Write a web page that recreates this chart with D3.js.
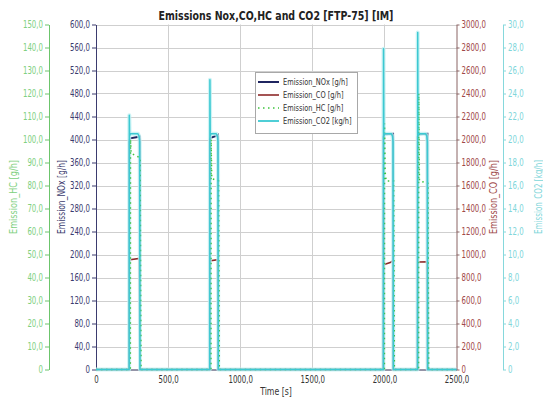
<!DOCTYPE html>
<html>
<head>
<meta charset="utf-8">
<script src="https://cdn.jsdelivr.net/npm/d3@7"></script>
<style>
  html, body { margin: 0; padding: 0; background: #fff; }
  svg { display: block; font-family: "DejaVu Sans", sans-serif; }
</style>
</head>
<body>
<svg id="chart" width="543" height="401"></svg>
<script>
// ---- data: four FTP-75 measurement windows, [time s, value] ----
const noxPoints = [
  [0, 0], [230, 0], [231, 396], [236, 402], [280, 404], [303, 405], [305, 0],
  [789, 0], [790, 400], [795, 403], [830, 406], [846, 408], [848, 0],
  [1993, 0], [1994, 405], [2000, 409], [2060, 410], [2062, 0],
  [2230, 0], [2231, 405], [2237, 409], [2298, 410], [2300, 0],
  [2500, 0]
];
const coPoints = [
  [0, 0], [230, 0], [231, 930], [237, 955], [300, 965], [305, 0],
  [789, 0], [790, 935], [796, 945], [843, 955], [848, 0],
  [1993, 0], [1994, 1450], [1997, 910], [2004, 915], [2040, 930], [2058, 945], [2062, 0],
  [2230, 0], [2231, 930], [2238, 935], [2296, 937], [2300, 0],
  [2500, 0]
];
const hcPoints = [
  [0, 0], [238, 0], [239, 100], [244, 94], [306, 92], [312, 0],
  [797, 0], [798, 100], [803, 83], [850, 82], [855, 0],
  [2000, 0], [2001, 107], [2005, 86], [2012, 82], [2064, 82], [2069, 0],
  [2237, 0], [2238, 120], [2243, 82], [2302, 81], [2307, 0],
  [2500, 0]
];
const co2Points = [
  [0, 0], [230, 0], [231, 22.1], [233, 20.3], [238, 20.5], [291, 20.5], [299, 20.3], [303, 19.8], [305, 0],
  [789, 0], [790, 25.2], [792, 20.3], [797, 20.5], [834, 20.5], [842, 20.3], [846, 19.8], [848, 0],
  [1993, 0], [1994, 27.9], [1996, 20.3], [2001, 20.5], [2048, 20.5], [2056, 20.3], [2060, 19.8], [2062, 0],
  [2230, 0], [2231, 29.3], [2233, 20.3], [2238, 20.5], [2286, 20.5], [2294, 20.3], [2298, 19.8], [2300, 0],
  [2500, 0]
];

// ---- axis tick values ----
const timeTicks = [0, 500, 1000, 1500, 2000, 2500];
const noxTicks = d3.range(0, 601, 40);
const hcTicks = d3.range(0, 151, 10);
const coTicks = d3.range(0, 3001, 200);
const co2Ticks = d3.range(0, 31, 2);

const legendLabels = ["Emission_NOx [g/h]", "Emission_CO [g/h]", "Emission_HC [g/h]", "Emission_CO2 [kg/h]"];
const titleText = "Emissions Nox,CO,HC and CO2 [FTP-75] [IM]";

// ---- layout ----
const plotLeft = 96, plotRight = 456.5, plotTop = 24.5, plotBottom = 369.5;
const svg = d3.select("#chart");

const x = d3.scaleLinear().domain([0, 2500]).range([plotLeft, plotRight]);
const yNox = d3.scaleLinear().domain([0, 600]).range([plotBottom, plotTop]);
const yHc = d3.scaleLinear().domain([0, 150]).range([plotBottom, plotTop]);
const yCo = d3.scaleLinear().domain([0, 3000]).range([plotBottom, plotTop]);
const yCo2 = d3.scaleLinear().domain([0, 30]).range([plotBottom, plotTop]);

const fmt = d => d === 0 ? "0" : d3.format(".1f")(d).replace(".", ",");

const colors = {
  nox: "#1f2560", co: "#8e2a2a", hc: "#3cc43c", co2: "#3cc9d2",
  noxText: "#3b3b6e", coText: "#a04848", hcText: "#80d080", co2Text: "#80d6da"
};

// narrow the rendered glyphs horizontally
function squeeze(sel, k) {
  sel.each(function () {
    const w = this.getComputedTextLength();
    this.setAttribute("textLength", (w * k).toFixed(2));
    this.setAttribute("lengthAdjust", "spacingAndGlyphs");
  });
}

// ---- grid ----
const grid = svg.append("g").attr("stroke", "#cfcfcf").attr("stroke-width", 1);
grid.selectAll("line.h").data(noxTicks.filter(d => d > 0)).join("line")
  .attr("x1", plotLeft).attr("x2", plotRight)
  .attr("y1", d => Math.round(yNox(d)) + 0.5).attr("y2", d => Math.round(yNox(d)) + 0.5);
grid.selectAll("line.v").data(timeTicks.filter(d => d > 0 && d < 2500)).join("line")
  .attr("y1", plotTop).attr("y2", plotBottom)
  .attr("x1", d => Math.round(x(d)) + 0.5).attr("x2", d => Math.round(x(d)) + 0.5);

// ---- axes ----
function styleAxis(g, lineColor, textColor, k) {
  g.select(".domain").attr("stroke", lineColor);
  g.selectAll(".tick line").attr("stroke", lineColor);
  g.selectAll(".tick text").attr("fill", textColor).attr("font-size", 10)
    .attr("font-family", "DejaVu Sans, sans-serif");
  squeeze(g.selectAll(".tick text"), k);
}

const gHc = svg.append("g").attr("transform", "translate(49,0)")
  .call(d3.axisLeft(yHc).tickValues(hcTicks).tickFormat(fmt).tickSize(4).tickSizeOuter(0).tickPadding(2));
styleAxis(gHc, "#6cc56c", colors.hcText, 0.7);

const gNox = svg.append("g").attr("transform", `translate(${plotLeft},0)`)
  .call(d3.axisLeft(yNox).tickValues(noxTicks).tickFormat(fmt).tickSize(4).tickSizeOuter(0).tickPadding(2));
styleAxis(gNox, "#3b3b6e", colors.noxText, 0.7);

const gCo = svg.append("g").attr("transform", `translate(${plotRight},0)`)
  .call(d3.axisRight(yCo).tickValues(coTicks).tickFormat(fmt).tickSize(3).tickSizeOuter(0).tickPadding(2));
styleAxis(gCo, "#8a6464", colors.coText, 0.7);

const gCo2 = svg.append("g").attr("transform", "translate(503,0)")
  .call(d3.axisRight(yCo2).tickValues(co2Ticks).tickFormat(fmt).tickSize(3).tickSizeOuter(0).tickPadding(2));
styleAxis(gCo2, "#86d8dc", colors.co2Text, 0.7);

const gTime = svg.append("g").attr("transform", `translate(0,${plotBottom})`)
  .call(d3.axisBottom(x).tickValues(timeTicks).tickFormat(fmt).tickSize(0).tickSizeOuter(0).tickPadding(6));
styleAxis(gTime, "#2a2a50", "#333", 0.7);

// ---- axis titles ----
function vTitle(cx, text, color) {
  svg.append("text")
    .attr("transform", `translate(${cx},${(plotTop + plotBottom) / 2}) rotate(-90)`)
    .attr("text-anchor", "middle").attr("dy", "0.35em")
    .attr("font-size", 10).attr("fill", color)
    .attr("textLength", 74).attr("lengthAdjust", "spacingAndGlyphs")
    .text(text);
}
vTitle(13, "Emission_HC [g/h]", colors.hcText);
vTitle(61, "Emission_NOx [g/h]", colors.noxText);
vTitle(493, "Emission_CO [g/h]", colors.coText);
vTitle(538, "Emission_CO2 [kg/h]", colors.co2Text);

svg.append("text").attr("x", 276).attr("y", 395).attr("text-anchor", "middle")
  .attr("font-size", 10).attr("fill", "#333").text("Time [s]")
  .call(squeeze, 0.78);

// chart title, narrowed with a horizontal scale so its box matches its ink
const title = svg.append("text").attr("x", 0).attr("y", 0).attr("text-anchor", "middle")
  .attr("font-size", 13).attr("font-weight", "bold").attr("fill", "#222")
  .text(titleText);
const titleK = 235 / title.node().getComputedTextLength();
title.attr("transform", `translate(276,20) scale(${titleK},1)`);

// ---- series ----
const plot = svg.append("g");
const lineOf = ys => d3.line().x(d => x(d[0])).y(d => ys(d[1]));

plot.append("path").datum(noxPoints).attr("d", lineOf(yNox))
  .attr("fill", "none").attr("stroke", colors.nox).attr("stroke-width", 2);
plot.append("path").datum(coPoints).attr("d", lineOf(yCo))
  .attr("fill", "none").attr("stroke", colors.co).attr("stroke-width", 1.6);
plot.append("path").datum(co2Points).attr("d", lineOf(yCo2))
  .attr("fill", "none").attr("stroke", "#bff0f2").attr("stroke-width", 4).attr("stroke-opacity", 0.8)
  .attr("stroke-linejoin", "round");
plot.append("path").datum(hcPoints).attr("d", lineOf(yHc))
  .attr("fill", "none").attr("stroke", colors.hc).attr("stroke-width", 1.5)
  .attr("stroke-dasharray", "1.5,3.5");
plot.append("path").datum(co2Points).attr("d", lineOf(yCo2))
  .attr("fill", "none").attr("stroke", colors.co2).attr("stroke-width", 1.5)
  .attr("stroke-linejoin", "round");

// ---- legend ----
const lg = svg.append("g").attr("transform", "translate(255,72)");
lg.append("rect").attr("x", 0.5).attr("y", 0.5).attr("width", 102).attr("height", 61)
  .attr("fill", "#fff").attr("stroke", "#a8a8a8");
const legendStyles = [
  { c: colors.nox, w: 2, dash: null },
  { c: colors.co, w: 1.6, dash: null },
  { c: colors.hc, w: 1.5, dash: "1.5,3.5" },
  { c: colors.co2, w: 1.8, dash: null }
];
legendLabels.forEach((label, i) => {
  const yy = 10 + i * 13;
  lg.append("line").attr("x1", 3).attr("x2", 24).attr("y1", yy).attr("y2", yy)
    .attr("stroke", legendStyles[i].c).attr("stroke-width", legendStyles[i].w)
    .attr("stroke-dasharray", legendStyles[i].dash);
  lg.append("text").attr("x", 28).attr("y", yy).attr("dy", "0.35em")
    .attr("font-size", 8.5).attr("fill", "#333").text(label)
    .call(squeeze, 0.78);
});
</script>
</body>
</html>
